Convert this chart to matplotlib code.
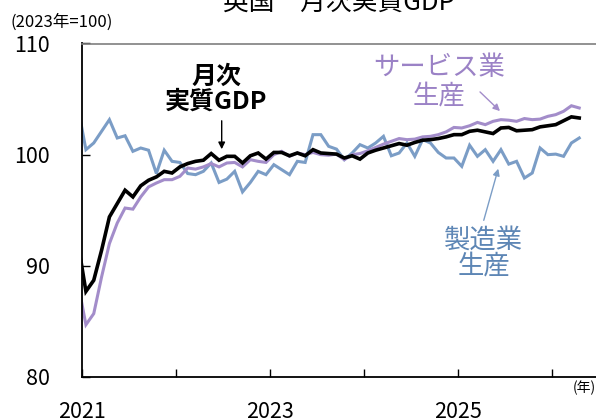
import numpy as np
import matplotlib
matplotlib.use("Agg")
import matplotlib.pyplot as plt

plt.rcParams['font.family'] = ['Noto Sans CJK JP', 'DejaVu Sans']

# %% data: monthly index (2023=100), Dec 2020 .. Apr 2026
months = np.arange(-1, 64)   # 0 = Jan 2021

gdp = [92.0,
       87.7, 88.7, 91.4, 94.4, 95.6, 96.8, 96.2, 97.2, 97.7, 98.0, 98.5, 98.35,
       98.9, 99.2, 99.4, 99.5, 100.1, 99.5, 99.85, 99.85, 99.25, 99.9, 100.15, 99.6,
       100.2, 100.2, 99.9, 100.15, 99.9, 100.45, 100.15, 100.1, 100.05, 99.7, 99.9, 99.6,
       100.15, 100.4, 100.6, 100.8, 101.0, 100.85, 101.1, 101.3, 101.35, 101.45, 101.6, 101.8,
       101.8, 102.1, 102.2, 102.05, 101.9, 102.4, 102.45, 102.15, 102.2, 102.25, 102.5, 102.6,
       102.7, 103.05, 103.4, 103.3]

services = [88.4,
            84.7, 85.7, 89.0, 92.0, 93.85, 95.2, 95.1, 96.2, 97.1, 97.45, 97.75, 97.75,
            98.05, 98.8, 98.7, 98.9, 99.2, 98.9, 99.25, 99.3, 98.9, 99.55, 99.4, 99.3,
            100.0, 100.3, 99.85, 100.15, 100.0, 100.2, 100.0, 99.95, 100.05, 99.55, 100.0, 100.1,
            100.35, 100.65, 100.95, 101.2, 101.45, 101.35, 101.4, 101.6, 101.65, 101.8, 102.05, 102.45,
            102.4, 102.6, 102.9, 102.7, 103.0, 103.15, 103.1, 103.0, 103.25, 103.15, 103.2, 103.45,
            103.6, 103.9, 104.4, 104.2]

manufacturing = [104.2,
                 100.45, 101.05, 102.1, 103.15, 101.5, 101.7, 100.3, 100.6, 100.4, 98.3, 100.4, 99.4,
                 99.3, 98.3, 98.2, 98.5, 99.25, 97.5, 97.8, 98.5, 96.65, 97.5, 98.5, 98.2,
                 99.1, 98.65, 98.2, 99.4, 99.3, 101.8, 101.8, 100.75, 100.5, 99.55, 100.15, 100.9,
                 100.6, 101.05, 101.65, 99.9, 100.15, 101.05, 99.85, 101.35, 101.05, 100.2, 99.7, 99.7,
                 98.95, 100.85, 99.85, 100.45, 99.4, 100.45, 99.15, 99.4, 97.9, 98.35, 100.6, 100.0,
                 100.05, 99.85, 101.05, 101.5]

year_ticks = [0, 12, 24, 36, 48, 60]
year_labels = ['2021', '', '2023', '', '2025', '']

# colours
c_gdp = '#000000'
c_srv = '#a38dca'
c_mfg = '#7b9dc6'
c_srv_txt = '#9b82c6'
c_mfg_txt = '#5d86b5'

W, H = 596, 418


def fx(x):
    return x / W


def fy(y):
    return 1 - y / H


# %% figure
fig = plt.figure(figsize=(W / 100, H / 100), dpi=100)
ax = fig.add_axes([fx(82), fy(377), (598.8 - 82) / W, (377 - 43.5) / H])

x = months + 0.5
ax.plot(x, manufacturing, color=c_mfg, lw=2.2, solid_joinstyle='miter')
ax.plot(x, services, color=c_srv, lw=2.2, solid_joinstyle='miter')
ax.plot(x, gdp, color=c_gdp, lw=2.6, solid_joinstyle='miter')

ax.set_xlim(0, 66)
ax.set_ylim(80, 110)

ax.set_yticks([80, 90, 100, 110])
ax.set_xticks(year_ticks)
ax.set_xticklabels(year_labels)
ax.tick_params(axis='y', direction='in', length=6, width=1, pad=23,
               labelsize=15.5)
ax.tick_params(axis='x', direction='in', length=6, width=1, pad=17,
               labelsize=15.5)

for s in ['left', 'bottom']:
    ax.spines[s].set_color('black')
    ax.spines[s].set_linewidth(1.3)
ax.spines['top'].set_color('#7f7f7f')
ax.spines['top'].set_linewidth(1.2)
ax.spines['right'].set_visible(False)

# %% texts
fig.text(fx(339), fy(3), '英国\u3000月次実質GDP', ha='center', va='center',
         fontsize=18.5)
fig.text(fx(10), fy(22), '(2023年=100)', ha='left', va='center',
         fontsize=12)
fig.text(fx(573), fy(388), '(年)', ha='left', va='center', fontsize=10)

fig.text(fx(216), fy(89), '月次\n実質GDP', ha='center', va='center',
         fontsize=18, fontweight='bold', linespacing=1.05)
ax.annotate('', xy=(fx(221.7), fy(152)), xytext=(fx(221.7), fy(118)),
            xycoords='figure fraction', textcoords='figure fraction',
            arrowprops=dict(arrowstyle='-|>', color='black', lw=1,
                            mutation_scale=10))

fig.text(fx(439), fy(82), 'サービス業\n生産', ha='center', va='center',
         fontsize=19, color=c_srv_txt, linespacing=1.05)
ax.annotate('', xy=(fx(502), fy(113)), xytext=(fx(478), fy(90)),
            xycoords='figure fraction', textcoords='figure fraction',
            arrowprops=dict(arrowstyle='-|>', color=c_srv, lw=1,
                            mutation_scale=10))

fig.text(fx(484), fy(253), '製造業\n生産', ha='center', va='center',
         fontsize=19, color=c_mfg_txt, linespacing=0.95)
ax.annotate('', xy=(fx(499), fy(166)), xytext=(fx(483), fy(223)),
            xycoords='figure fraction', textcoords='figure fraction',
            arrowprops=dict(arrowstyle='-|>', color=c_mfg, lw=1,
                            mutation_scale=10))

plt.savefig('out.png', dpi=100)
